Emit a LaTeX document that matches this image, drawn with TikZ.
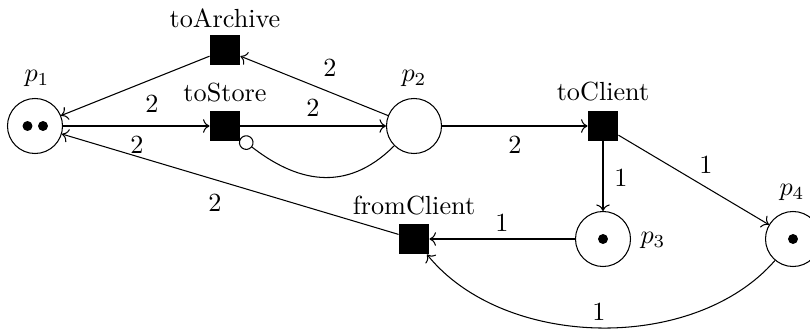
\documentclass[tikz,border=0pt]{standalone}
\usetikzlibrary{arrows.meta}
\begin{document}
\begin{tikzpicture}[x=0.3817pt,y=-0.3817pt,
  place/.style={circle,draw,minimum size=21pt,inner sep=0pt},
  transition/.style={rectangle,draw,fill=black,minimum size=11.4pt,inner sep=0pt},
  token/.style={circle,fill=black,minimum size=3.8pt,inner sep=0pt},
  arc/.style={->},
  inhib/.style={-{Circle[open,length=5.6pt,width=5.6pt]}},
  lbl/.style={inner sep=0pt}]
\useasboundingbox (0,0) rectangle (810,333);

% places
\node[place] (p1) at (35,126) {};
\node[place] (p2) at (414,126) {};
\node[place] (p3) at (603,239) {};
\node[place] (p4) at (793,239) {};

% tokens
\node[token] (p1a) at (27.5,126) {};
\node[token] (p1b) at (43,126) {};
\node[token] (p3a) at (603,239) {};
\node[token] (p4a) at (793,239) {};

% transitions
\node[transition] (toArchive) at (225,50) {};
\node[transition] (toStore) at (225,126) {};
\node[transition] (toClient) at (603,126) {};
\node[transition] (fromClient) at (414,239) {};

% names
\node[lbl] (lp1) at (37,78) {$p_1$};
\node[lbl] (lp2) at (414,78) {$p_2$};
\node[lbl] (lp3) at (653,240) {$p_3$};
\node[lbl] (lp4) at (792,192) {$p_4$};
\node[lbl] (ltoArchive) at (225,18) {toArchive};
\node[lbl] (ltoStore) at (225,93) {toStore};
\node[lbl] (ltoClient) at (603,92) {toClient};
\node[lbl] (lfromClient) at (414,206) {fromClient};

% arcs
\draw[arc] (p1) -- (toStore);
\draw[arc] (toStore) -- (p2);
\draw[arc] (p2) -- (toArchive);
\draw[arc] (toArchive) -- (p1);
\draw[arc] (fromClient) -- (p1);
\draw[arc] (p2) -- (toClient);
\draw[arc] (toClient) -- (p3);
\draw[arc] (toClient) -- (p4);
\draw[arc] (p3) -- (fromClient);
\draw[arc] (p4) to[bend left=50,looseness=0.9] (fromClient);
\draw[inhib] (p2) to[out=225,in=-38,looseness=1.15] (toStore);

% weights
\node[lbl] (w1) at (152,104) {2};
\node[lbl] (w2) at (313,108) {2};
\node[lbl] (w3) at (330,68) {2};
\node[lbl] (w4) at (137,145) {2};
\node[lbl] (w5) at (215,203) {2};
\node[lbl] (w6) at (515,145) {2};
\node[lbl] (w7) at (621,178) {1};
\node[lbl] (w8) at (706,165) {1};
\node[lbl] (w9) at (502,223) {1};
\node[lbl] (w10) at (599,312) {1};
\end{tikzpicture}
\end{document}
